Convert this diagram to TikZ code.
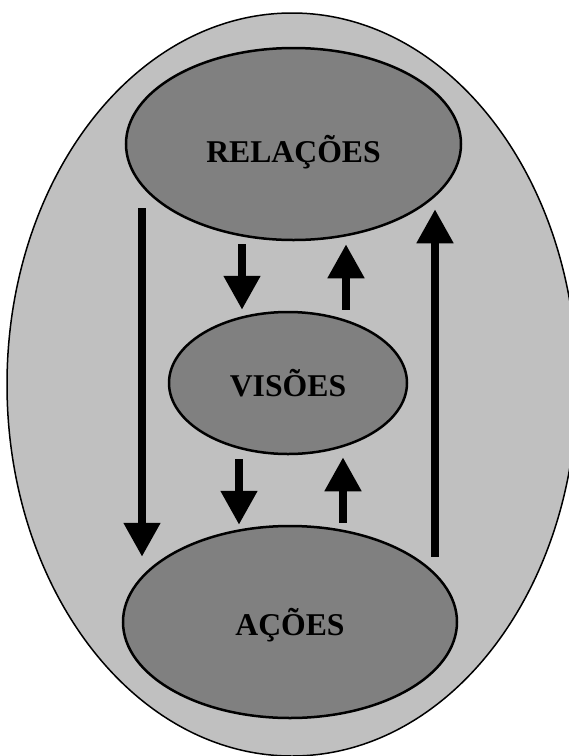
\documentclass[tikz,border=0pt]{standalone}
\usepackage{fontspec}
\setmainfont{Liberation Serif}
\usetikzlibrary{shapes.geometric,arrows.meta}
\definecolor{lightfill}{RGB}{192,192,192}
\definecolor{darkfill}{RGB}{128,128,128}

\begin{document}
\begin{tikzpicture}[
x=1pt, y=-1pt,
whole/.style={
  ellipse,
  draw,
  line width=1.5pt,
  fill=lightfill,
  inner sep=0pt
  },
topic/.style={
  ellipse,
  draw,
  line width=2.5pt,
  fill=darkfill,
  inner sep=0pt,
  text depth=0pt,
  font=\bfseries\fontsize{31.7}{38}\selectfont
  },
flow/.style={
  line width=8pt,
  -{Triangle[width=35pt,length=34pt]}
  }
]
\useasboundingbox (0,0) rectangle (569,756);
\node[whole, minimum width=570pt, minimum height=743pt] (world) at (292,384.5) {};
\node[topic, text height=37pt, minimum width=335pt, minimum height=192pt] (rel) at (293.5,144) {RELAÇÕES};
\node[topic, minimum width=238pt, minimum height=142pt] (vis) at (288,383) {VISÕES};
\node[topic, minimum width=334pt, minimum height=192pt] (aco) at (290,622) {AÇÕES};
% short arrows between the middle and the outer ovals
\path[flow]
  ([xshift=-51.5pt,yshift=-3pt]rel.south) edge ([xshift=-46pt,yshift=1pt]vis.north)
  ([xshift=58pt,yshift=1pt]vis.north) edge ([xshift=52.5pt,yshift=-3pt]rel.south)
  ([xshift=-49pt,yshift=-4pt]vis.south) edge ([xshift=-51pt]aco.north)
  ([xshift=53pt,yshift=2pt]aco.north) edge ([xshift=55pt,yshift=-2pt]vis.south);
% long arrows on both sides
\path[flow]
  ([xshift=-151.5pt,yshift=33pt]rel.south) edge ([xshift=-148pt,yshift=-32pt]aco.north)
  ([xshift=145pt,yshift=-32pt]aco.north) edge ([xshift=141.5pt,yshift=32pt]rel.south);
\end{tikzpicture}
\end{document}
